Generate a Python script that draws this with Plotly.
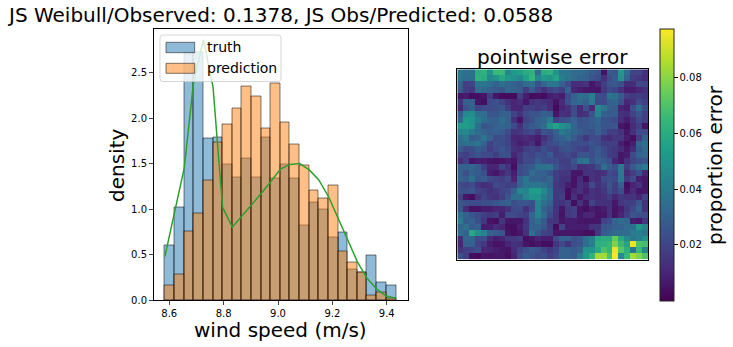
import plotly.graph_objects as go

W, H = 733, 347

bin_edges = [8.584, 8.619, 8.655, 8.690, 8.726, 8.761, 8.796, 8.832, 8.867, 8.903, 8.938, 8.973, 9.009,
             9.044, 9.080, 9.115, 9.150, 9.186, 9.221, 9.257, 9.292, 9.327, 9.363, 9.398, 9.434]
truth = [0.60, 1.02, 2.72, 2.72, 1.77, 1.79, 1.49, 1.35, 1.55, 1.35, 1.79, 1.34,
         1.49, 1.33, 0.82, 1.07, 1.00, 0.69, 0.74, 0.33, 0.30, 0.49, 0.19, 0.16]
prediction = [0.16, 0.28, 0.75, 0.95, 1.31, 1.73, 1.93, 2.10, 2.35, 2.24, 1.88, 2.38,
              1.95, 1.71, 1.48, 1.20, 1.12, 1.26, 0.53, 0.41, 0.30, 0.05, 0.085, 0.02]
weibull = [0.48, 0.97, 1.45, 2.41, 2.86, 2.34, 1.02, 0.80, 0.92, 1.04, 1.17, 1.30, 1.44,
           1.49, 1.50, 1.43, 1.32, 1.135, 0.90, 0.64, 0.42, 0.24, 0.12, 0.044, 0.02]
weibull_x = [8.584, 8.619, 8.655, 8.690, 8.726, 8.761, 8.796, 8.832, 8.867, 8.903, 8.938, 8.973, 9.009,
             9.044, 9.080, 9.115, 9.150, 9.186, 9.221, 9.257, 9.292, 9.327, 9.363, 9.398, 9.434]

error_thousandths = [
 [40,36,36,60,62,50,66,66,45,52,55,60,62,34,60,62,50,38,38,34,34,32,28,26,5,28,26,52,34,20,20,14],
 [38,34,34,62,60,46,50,58,52,50,46,55,64,45,52,50,56,42,38,34,32,30,26,22,14,24,28,50,30,18,16,12],
 [30,18,20,38,38,36,30,36,32,30,28,34,36,24,32,38,38,30,22,12,12,14,6,10,18,26,28,24,12,12,22,20],
 [28,18,16,34,32,30,28,26,32,30,28,18,28,20,14,20,22,18,30,10,8,6,6,6,16,22,20,14,8,8,10,14],
 [6,8,4,4,6,18,6,3,3,3,18,8,3,4,3,8,10,8,22,30,35,34,42,24,22,38,36,28,18,16,18,16],
 [14,30,30,6,4,22,24,20,14,10,12,6,14,16,14,12,5,12,24,32,34,30,40,22,22,30,32,24,10,14,22,18],
 [10,26,30,20,22,22,24,26,18,10,10,18,18,16,18,12,3,10,14,22,12,24,12,46,38,30,28,10,8,24,34,24],
 [28,46,48,36,34,26,26,30,30,20,14,22,26,26,30,28,6,14,12,24,12,14,26,44,30,28,28,14,12,20,26,18],
 [32,52,50,42,36,30,30,34,30,14,5,20,24,30,32,42,20,24,26,30,24,26,28,32,26,24,22,12,8,14,22,18],
 [54,54,50,36,26,28,30,32,30,22,14,24,28,30,34,50,56,50,44,32,26,26,28,30,26,26,26,6,4,12,18,5],
 [44,46,40,34,30,28,30,28,22,14,16,20,22,16,26,24,30,40,36,32,28,26,24,30,24,18,18,14,6,14,22,22],
 [36,40,28,30,38,30,22,24,20,10,10,12,10,8,14,20,28,30,34,28,22,16,22,22,14,12,16,16,8,4,18,30],
 [34,36,36,38,30,20,24,22,20,12,8,10,14,6,18,22,24,28,26,22,24,22,26,22,18,18,18,8,4,8,32,36],
 [28,22,24,28,26,18,22,26,22,14,12,18,20,18,24,20,18,24,26,22,20,18,24,28,22,18,16,12,6,12,28,34],
 [20,18,22,26,22,22,18,24,24,10,16,22,20,24,22,28,18,20,22,18,26,26,24,28,24,18,16,6,8,22,30,32],
 [12,18,6,8,8,6,5,5,8,6,16,22,22,28,24,22,22,18,18,26,36,38,26,30,28,24,10,6,14,20,24,26],
 [30,30,32,28,18,10,10,20,14,4,22,26,28,36,36,38,26,20,18,22,12,14,16,22,36,28,24,40,18,28,34,40],
 [30,24,30,28,24,8,6,10,16,8,22,26,34,30,30,26,18,16,16,6,6,14,14,12,14,22,20,40,12,18,24,10],
 [30,28,36,26,28,22,20,18,22,10,32,38,30,30,28,32,18,14,14,5,12,4,14,12,22,24,22,40,16,22,8,6],
 [22,20,22,16,12,14,22,20,18,20,30,38,38,38,36,30,16,14,8,5,14,10,22,14,18,26,18,30,4,10,14,6],
 [24,24,26,20,18,14,16,20,22,30,46,44,54,54,46,36,16,16,4,10,14,8,14,12,16,24,18,24,6,12,6,6],
 [20,6,4,14,20,16,14,18,26,36,36,44,50,50,42,34,16,18,4,14,6,12,14,12,14,18,10,16,14,14,10,20],
 [26,24,22,22,24,24,26,28,30,24,26,26,24,44,36,30,16,14,18,4,14,6,20,14,14,14,6,16,18,18,26,14],
 [26,12,5,5,8,8,10,10,14,22,22,14,22,44,30,26,14,6,16,18,6,4,8,6,8,14,5,8,16,22,30,14],
 [36,30,26,22,18,16,18,8,22,22,20,18,32,44,34,22,14,5,16,18,6,10,10,5,6,14,5,10,18,26,24,22],
 [42,28,30,24,16,5,4,16,6,6,6,14,30,36,28,16,14,6,8,8,6,5,6,6,20,22,32,34,32,8,6,16],
 [32,36,28,30,8,8,12,10,4,4,8,16,30,30,26,18,3,20,8,8,8,8,14,14,26,28,30,30,34,36,52,44],
 [34,30,58,48,44,30,28,26,6,4,6,14,36,26,20,18,6,6,6,6,5,4,4,16,28,30,34,34,34,40,42,38],
 [12,32,32,22,24,12,8,10,16,16,18,4,6,10,8,8,22,30,30,24,26,36,42,58,60,60,74,58,46,38,42,50],
 [10,30,30,20,16,8,5,6,10,14,12,6,4,6,4,4,16,22,16,24,26,34,42,62,62,64,78,66,56,95,70,68],
 [14,18,20,24,10,10,8,6,5,12,20,24,28,26,20,16,20,30,30,28,30,50,50,58,70,64,95,72,62,38,66,46],
 [24,18,4,2,6,5,6,6,4,10,22,28,26,22,24,18,22,30,30,28,40,52,62,84,84,70,97,48,66,84,78,70],
]
y_ticks = [0.0, 0.5, 1.0, 1.5, 2.0, 2.5]
x_ticks = [8.6, 8.8, 9.0, 9.2, 9.4]
cb_ticks = [0.02, 0.04, 0.06, 0.08]

FONT = "DejaVu Sans"
BLUE, ORANGE, GREEN = "rgba(31,119,180,0.5)", "rgba(255,127,14,0.5)", "#2ca02c"
EDGE = "rgba(0,0,0,0.5)"


def px(x):
    return x / W


def py(y):
    return 1 - y / H


centers = [(a + b) / 2 for a, b in zip(bin_edges[:-1], bin_edges[1:])]
widths = [b - a for a, b in zip(bin_edges[:-1], bin_edges[1:])]

fig = go.Figure()
fig.add_trace(go.Bar(x=centers, y=truth, width=widths, name="truth",
                     marker=dict(color=BLUE, line=dict(color=EDGE, width=1)), showlegend=False))
fig.add_trace(go.Bar(x=centers, y=prediction, width=widths, name="prediction",
                     marker=dict(color=ORANGE, line=dict(color=EDGE, width=1)), showlegend=False))
fig.add_trace(go.Scatter(x=weibull_x, y=weibull, mode="lines",
                         line=dict(color=GREEN, width=1.5), showlegend=False))
fig.add_trace(go.Heatmap(z=[[v / 1000 for v in row] for row in error_thousandths],
                         xaxis="x2", yaxis="y2", colorscale="Viridis", zmin=0.0, zmax=0.0976,
                         colorbar=dict(xref="paper", yref="paper", x=px(660.3), xanchor="left", xpad=0,
                                       y=py(300.7), yanchor="bottom", ypad=0, len=272.4 / H, lenmode="fraction",
                                       thickness=14, thicknessmode="pixels", outlinecolor="#222", outlinewidth=1,
                                       tickmode="array", tickvals=cb_ticks, ticktext=["0.02", "0.04", "0.06", "0.08"],
                                       ticks="outside", ticklen=3.5, tickwidth=1, tickcolor="black",
                                       tickfont=dict(family=FONT, size=10, color="black"))))


def rounded(x0, y0, x1, y1, r):
    pts = [(x0 + r, y0), (x1 - r, y0), (x1, y0), (x1, y0 + r), (x1, y1 - r), (x1, y1),
           (x1 - r, y1), (x0 + r, y1), (x0, y1), (x0, y1 - r), (x0, y0 + r), (x0, y0), (x0 + r, y0)]
    c = [(px(a), py(b)) for a, b in pts]
    s = f"M{c[0][0]},{c[0][1]}L{c[1][0]},{c[1][1]}"
    s += f"Q{c[2][0]},{c[2][1]} {c[3][0]},{c[3][1]}L{c[4][0]},{c[4][1]}"
    s += f"Q{c[5][0]},{c[5][1]} {c[6][0]},{c[6][1]}L{c[7][0]},{c[7][1]}"
    s += f"Q{c[8][0]},{c[8][1]} {c[9][0]},{c[9][1]}L{c[10][0]},{c[10][1]}"
    s += f"Q{c[11][0]},{c[11][1]} {c[12][0]},{c[12][1]}Z"
    return s


shapes = [
    dict(type="path", xref="paper", yref="paper", path=rounded(160, 35, 281, 81.5, 3),
         fillcolor="rgba(255,255,255,0.8)", line=dict(color="rgba(204,204,204,0.8)", width=1), layer="above"),
    dict(type="rect", xref="paper", yref="paper", x0=px(166), x1=px(194.7), y0=py(42.3), y1=py(52.7),
         fillcolor=BLUE, line=dict(color=EDGE, width=1), layer="above"),
    dict(type="rect", xref="paper", yref="paper", x0=px(166), x1=px(194.7), y0=py(63.3), y1=py(73.3),
         fillcolor=ORANGE, line=dict(color=EDGE, width=1), layer="above"),
]


def label(text, x, y, size, angle=0, xanchor="center"):
    return dict(text=text, xref="paper", yref="paper", x=px(x), y=py(y), showarrow=False, xanchor=xanchor,
                yanchor="middle", textangle=angle, font=dict(family=FONT, size=size, color="black"))


annotations = [
    label("JS Weibull/Observed: 0.1378, JS Obs/Predicted: 0.0588", 280, 15, 20),
    label("pointwise error", 552.5, 57, 20),
    label("wind speed (m/s)", 280, 330, 20),
    label("density", 117, 165, 20, angle=-90),
    label("proportion error", 715, 165, 20, angle=-90),
    label("truth", 205, 47.5, 14, xanchor="left"),
    label("prediction", 205, 68, 14, xanchor="left"),
]

axis_common = dict(showgrid=False, zeroline=False, showline=True, linecolor="black", linewidth=1, mirror=True)
fig.update_layout(
    width=W, height=H, autosize=False, margin=dict(l=0, r=0, t=0, b=0, pad=0, autoexpand=False),
    paper_bgcolor="white", plot_bgcolor="white", barmode="overlay", bargap=0,
    font=dict(family=FONT, color="black"), showlegend=False, shapes=shapes, annotations=annotations,
    xaxis=dict(domain=[px(153.5), px(407.7)], range=[8.542, 9.477], tickvals=x_ticks,
               ticktext=["8.6", "8.8", "9.0", "9.2", "9.4"], ticks="outside", ticklen=3.5, tickwidth=1,
               tickfont=dict(size=10, family=FONT, color="black"), **axis_common),
    yaxis=dict(domain=[py(300), py(28.5)], range=[0, 2.984], tickvals=y_ticks,
               ticktext=["0.0", "0.5", "1.0", "1.5", "2.0", "2.5"], ticks="outside", ticklen=3.5, tickwidth=1,
               tickfont=dict(size=10, family=FONT, color="black"), **axis_common),
    xaxis2=dict(domain=[px(457.3), px(648.3)], anchor="y2", showticklabels=False, ticks="", range=[-0.5, 31.5],
                **axis_common),
    yaxis2=dict(domain=[py(259.5), py(69.3)], anchor="x2", showticklabels=False, ticks="", range=[31.5, -0.5],
                **axis_common),
)

fig.write_html("out.html", config={"displayModeBar": False},
               post_script="document.body.style.margin='0';")
